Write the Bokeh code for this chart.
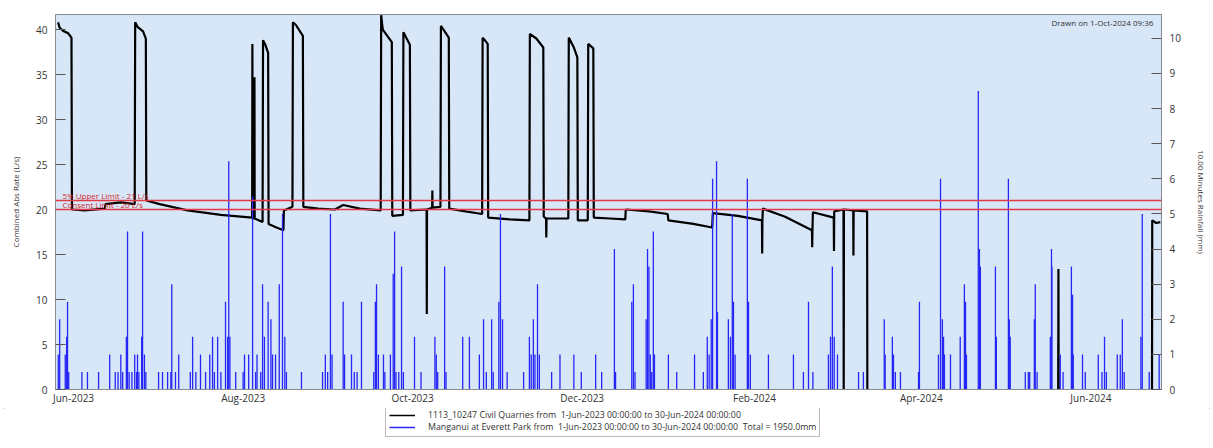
import numpy as np
import pandas as pd
from bokeh.plotting import figure
from bokeh.layouts import column
from bokeh.models import (Range1d, LinearAxis, FixedTicker, SingleIntervalTicker,
                          DatetimeTickFormatter, Span, Label, Legend, LegendItem,
                          ColumnDataSource)
from bokeh.embed import file_html
from bokeh.resources import INLINE

nan = float("nan")

# ---------------- data ----------------
x_tick_dates = ["2023-06-01", "2023-08-01", "2023-10-01", "2023-12-01",
                "2024-02-01", "2024-04-01", "2024-06-01"]

flow_series_name = "1113_10247 Civil Quarries from  1-Jun-2023 00:00:00 to 30-Jun-2024 00:00:00"
rain_series_name = "Manganui at Everett Park from  1-Jun-2023 00:00:00 to 30-Jun-2024 00:00:00  Total = 1950.0mm"

upper_limit = 21.0
consent_limit = 20.0

# combined abstraction rate (L/s)
flow = [
    ("2023-05-26 10:00", 40.8), ("2023-05-27 00:00", 40.2), ("2023-05-28 12:00", 39.8),
    ("2023-05-30 00:00", 39.6), ("2023-05-31 06:00", 39.1), ("2023-05-31 10:00", 20.0),
    ("2023-06-05 00:00", 19.9), ("2023-06-12 06:00", 20.1), ("2023-06-12 12:00", 20.6),
    ("2023-06-18 00:00", 20.8), ("2023-06-23 00:00", 20.6), ("2023-06-23 04:00", 40.8),
    ("2023-06-24 00:00", 40.3), ("2023-06-26 00:00", 39.8), ("2023-06-27 00:00", 39.0),
    ("2023-06-27 04:00", 21.0), ("2023-07-02 00:00", 20.6), ("2023-07-12 00:00", 19.9),
    ("2023-07-24 00:00", 19.4), ("2023-08-04 06:00", 19.1), ("2023-08-04 08:00", 38.4),
    ("2023-08-04 10:00", 19.1), ("2023-08-05 00:00", 19.0), ("2023-08-05 02:00", 34.7),
    ("2023-08-05 04:00", 19.0), ("2023-08-08 00:00", 18.6), ("2023-08-08 04:00", 38.8),
    ("2023-08-09 00:00", 38.3), ("2023-08-10 00:00", 37.4), ("2023-08-10 04:00", 18.4),
    ("2023-08-13 00:00", 18.0), ("2023-08-15 12:00", 17.7), ("2023-08-15 16:00", 19.9),
    ("2023-08-18 18:00", 20.3), ("2023-08-18 22:00", 40.8), ("2023-08-20 00:00", 40.5),
    ("2023-08-22 12:00", 39.3), ("2023-08-22 16:00", 20.3), ("2023-08-28 00:00", 20.1),
    ("2023-09-03 00:00", 20.0), ("2023-09-06 00:00", 20.5), ("2023-09-12 00:00", 20.1),
    ("2023-09-19 12:00", 19.9), ("2023-09-19 16:00", 41.6), ("2023-09-20 06:00", 40.0),
    ("2023-09-23 12:00", 38.6), ("2023-09-23 16:00", 19.3), ("2023-09-27 12:00", 19.4),
    ("2023-09-27 16:00", 39.7), ("2023-09-30 00:00", 38.3), ("2023-09-30 04:00", 19.9),
    ("2023-10-06 00:00", 20.0), ("2023-10-06 02:00", 8.4), ("2023-10-06 04:00", 20.0),
    ("2023-10-08 00:00", 20.2), ("2023-10-08 02:00", 22.1), ("2023-10-08 04:00", 20.2),
    ("2023-10-11 00:00", 20.3), ("2023-10-11 04:00", 40.4), ("2023-10-12 12:00", 39.8),
    ("2023-10-14 00:00", 39.1), ("2023-10-14 04:00", 20.1), ("2023-10-20 00:00", 19.8),
    ("2023-10-26 00:00", 19.5), ("2023-10-26 04:00", 39.1), ("2023-10-27 00:00", 38.8),
    ("2023-10-28 00:00", 38.4), ("2023-10-28 04:00", 19.1), ("2023-11-05 00:00", 18.9),
    ("2023-11-12 00:00", 18.8), ("2023-11-12 04:00", 39.5), ("2023-11-14 12:00", 39.0),
    ("2023-11-17 00:00", 38.0), ("2023-11-17 04:00", 19.2), ("2023-11-18 00:00", 19.0),
    ("2023-11-18 02:00", 16.9), ("2023-11-18 04:00", 19.0), ("2023-11-26 00:00", 19.0),
    ("2023-11-26 04:00", 39.1), ("2023-11-28 00:00", 38.0), ("2023-11-29 06:00", 36.9),
    ("2023-11-29 10:00", 18.8), ("2023-12-03 00:00", 18.8), ("2023-12-03 04:00", 38.4),
    ("2023-12-05 00:00", 37.9), ("2023-12-05 04:00", 19.1), ("2023-12-11 00:00", 19.0),
    ("2023-12-16 12:00", 18.9), ("2023-12-16 16:00", 20.0), ("2023-12-25 00:00", 19.8),
    ("2023-12-31 18:00", 19.5), ("2024-01-01 00:00", 18.8), ("2024-01-10 00:00", 18.4),
    ("2024-01-16 18:00", 18.0), ("2024-01-17 00:00", 19.6), ("2024-01-26 00:00", 19.3),
    ("2024-02-03 16:00", 18.8), ("2024-02-03 18:00", 15.1), ("2024-02-03 20:00", 18.8),
    ("2024-02-04 00:00", 20.1), ("2024-02-12 00:00", 19.2), ("2024-02-21 16:00", 17.7),
    ("2024-02-21 18:00", 15.8), ("2024-02-21 20:00", 17.7), ("2024-02-22 00:00", 19.7),
    ("2024-02-29 12:00", 19.1), ("2024-02-29 14:00", 15.4), ("2024-02-29 16:00", 19.8),
    ("2024-03-04 00:00", 20.0), ("2024-03-04 02:00", 0.0), ("2024-03-04 04:00", 20.0),
    ("2024-03-07 12:00", 19.9), ("2024-03-07 14:00", 14.9), ("2024-03-07 16:00", 19.9),
    ("2024-03-12 12:00", 19.8), ("2024-03-12 14:00", 0.0), ("2024-03-12 16:00", nan),
    ("2024-05-20 06:00", 0.0), ("2024-05-20 08:00", 13.4), ("2024-05-20 10:00", 0.0),
    ("2024-05-20 12:00", nan), ("2024-06-23 00:00", 0.0), ("2024-06-23 02:00", 18.8),
    ("2024-06-24 12:00", 18.5), ("2024-06-26 00:00", 18.6),
]

# 10-minute rainfall (mm)
rain = [
    ("2023-05-26 12:00", 1.0), ("2023-05-27 00:00", 2.0), ("2023-05-29 00:00", 1.0),
    ("2023-05-29 12:00", 1.5), ("2023-05-29 20:00", 2.5), ("2023-05-30 06:00", 0.5),
    ("2023-06-04 00:00", 0.5), ("2023-06-06 00:00", 0.5), ("2023-06-10 00:00", 0.5),
    ("2023-06-14 00:00", 1.0), ("2023-06-16 00:00", 0.5), ("2023-06-17 00:00", 0.5),
    ("2023-06-18 00:00", 1.0), ("2023-06-18 16:00", 0.5), ("2023-06-20 00:00", 1.5),
    ("2023-06-20 10:00", 4.5), ("2023-06-21 00:00", 0.5), ("2023-06-22 00:00", 0.5),
    ("2023-06-23 00:00", 1.0), ("2023-06-23 16:00", 0.5), ("2023-06-24 00:00", 1.0),
    ("2023-06-24 12:00", 0.5), ("2023-06-25 12:00", 1.5), ("2023-06-25 20:00", 4.5),
    ("2023-06-26 12:00", 1.0), ("2023-06-27 00:00", 0.5), ("2023-07-01 14:00", 0.5),
    ("2023-07-03 00:00", 0.5), ("2023-07-04 20:00", 0.5), ("2023-07-06 00:00", 0.5),
    ("2023-07-06 08:00", 3.0), ("2023-07-07 16:00", 0.5), ("2023-07-08 20:00", 1.0),
    ("2023-07-13 00:00", 0.5), ("2023-07-13 20:00", 1.5), ("2023-07-15 00:00", 0.5),
    ("2023-07-16 16:00", 1.0), ("2023-07-18 12:00", 0.5), ("2023-07-20 00:00", 1.0),
    ("2023-07-21 00:00", 1.5), ("2023-07-21 16:00", 0.5), ("2023-07-22 20:00", 1.5),
    ("2023-07-24 00:00", 0.5), ("2023-07-25 16:00", 2.5), ("2023-07-26 10:00", 1.5),
    ("2023-07-26 20:00", 6.5), ("2023-07-27 06:00", 1.5), ("2023-07-29 08:00", 0.5),
    ("2023-08-01 00:00", 0.5), ("2023-08-01 12:00", 1.0), ("2023-08-03 00:00", 1.0),
    ("2023-08-04 10:00", 5.5), ("2023-08-05 12:00", 0.5), ("2023-08-06 00:00", 1.0),
    ("2023-08-07 08:00", 0.5), ("2023-08-08 00:00", 3.0), ("2023-08-08 16:00", 1.5),
    ("2023-08-10 00:00", 2.5), ("2023-08-11 00:00", 2.0), ("2023-08-11 14:00", 1.0),
    ("2023-08-12 16:00", 1.0), ("2023-08-14 00:00", 3.0), ("2023-08-15 04:00", 5.0),
    ("2023-08-16 00:00", 1.5), ("2023-08-16 14:00", 0.5), ("2023-08-22 00:00", 0.5),
    ("2023-08-29 14:00", 0.5), ("2023-08-30 14:00", 1.0), ("2023-08-31 10:00", 0.5),
    ("2023-09-01 10:00", 5.0), ("2023-09-02 00:00", 1.0), ("2023-09-06 00:00", 2.5),
    ("2023-09-06 12:00", 1.0), ("2023-09-09 00:00", 1.0), ("2023-09-10 00:00", 0.5),
    ("2023-09-11 00:00", 0.5), ("2023-09-12 14:00", 2.5), ("2023-09-17 00:00", 0.5),
    ("2023-09-17 14:00", 2.5), ("2023-09-18 00:00", 3.0), ("2023-09-18 16:00", 1.0),
    ("2023-09-20 12:00", 1.0), ("2023-09-21 00:00", 0.5), ("2023-09-23 00:00", 1.0),
    ("2023-09-24 00:00", 3.3), ("2023-09-24 12:00", 4.5), ("2023-09-25 00:00", 0.5),
    ("2023-09-26 00:00", 0.5), ("2023-09-27 00:00", 3.5), ("2023-09-27 16:00", 0.5),
    ("2023-10-01 16:00", 1.5), ("2023-10-04 00:00", 0.5), ("2023-10-09 00:00", 1.5),
    ("2023-10-09 12:00", 1.0), ("2023-10-10 00:00", 0.5), ("2023-10-12 12:00", 3.5),
    ("2023-10-13 00:00", 0.5), ("2023-10-19 00:00", 1.5), ("2023-10-21 10:00", 1.5),
    ("2023-10-25 00:00", 1.0), ("2023-10-26 12:00", 2.0), ("2023-10-27 12:00", 0.5),
    ("2023-10-29 10:00", 2.0), ("2023-10-30 00:00", 0.5), ("2023-11-01 00:00", 2.5),
    ("2023-11-01 14:00", 5.0), ("2023-11-02 08:00", 2.0), ("2023-11-04 00:00", 0.5),
    ("2023-11-09 22:00", 0.5), ("2023-11-12 00:00", 1.5), ("2023-11-12 16:00", 1.0),
    ("2023-11-13 10:00", 2.0), ("2023-11-14 00:00", 1.0), ("2023-11-14 22:00", 3.0),
    ("2023-11-15 14:00", 1.0), ("2023-11-20 00:00", 0.5), ("2023-11-23 00:00", 1.0),
    ("2023-11-28 00:00", 1.0), ("2023-11-30 16:00", 0.5), ("2023-12-05 20:00", 1.0),
    ("2023-12-08 00:00", 0.5), ("2023-12-12 14:00", 4.0), ("2023-12-13 00:00", 0.5),
    ("2023-12-18 20:00", 2.5), ("2023-12-19 10:00", 3.0), ("2023-12-20 00:00", 0.5),
    ("2023-12-24 00:00", 2.0), ("2023-12-24 12:00", 4.0), ("2023-12-25 00:00", 3.5),
    ("2023-12-25 12:00", 1.0), ("2023-12-26 00:00", 0.5), ("2023-12-26 14:00", 4.5),
    ("2023-12-27 00:00", 1.0), ("2024-01-01 00:00", 1.0), ("2024-01-04 00:00", 0.5),
    ("2024-01-10 10:00", 1.0), ("2024-01-13 14:00", 0.5), ("2024-01-15 00:00", 1.5),
    ("2024-01-15 16:00", 1.0), ("2024-01-16 10:00", 2.0), ("2024-01-16 22:00", 6.0),
    ("2024-01-18 08:00", 6.5), ("2024-01-18 16:00", 2.2), ("2024-01-22 14:00", 2.0),
    ("2024-01-23 08:00", 1.5), ("2024-01-24 00:00", 5.0), ("2024-01-24 10:00", 2.5),
    ("2024-01-25 00:00", 1.0), ("2024-01-29 10:00", 6.0), ("2024-01-29 20:00", 2.5),
    ("2024-01-30 12:00", 1.0), ("2024-02-06 00:00", 1.0), ("2024-02-15 00:00", 1.0),
    ("2024-02-18 14:00", 0.5), ("2024-02-20 10:00", 2.5), ("2024-02-22 00:00", 0.5),
    ("2024-02-27 14:00", 1.0), ("2024-02-28 08:00", 1.5), ("2024-02-29 00:00", 3.5),
    ("2024-02-29 16:00", 1.5), ("2024-03-01 20:00", 1.0), ("2024-03-09 10:00", 0.5),
    ("2024-03-11 04:00", 0.5), ("2024-03-18 16:00", 2.0), ("2024-03-19 00:00", 1.0),
    ("2024-03-21 14:00", 1.5), ("2024-03-22 00:00", 1.0), ("2024-03-22 16:00", 0.5),
    ("2024-03-24 12:00", 0.5), ("2024-03-31 00:00", 0.5), ("2024-03-31 08:00", 2.5),
    ("2024-04-07 04:00", 1.0), ("2024-04-07 22:00", 6.0), ("2024-04-08 14:00", 2.0),
    ("2024-04-09 00:00", 1.5), ("2024-04-09 08:00", 1.0), ("2024-04-11 12:00", 1.0),
    ("2024-04-15 00:00", 1.5), ("2024-04-16 12:00", 3.0), ("2024-04-16 22:00", 2.5),
    ("2024-04-17 06:00", 1.0), ("2024-04-21 12:00", 8.5), ("2024-04-21 22:00", 4.0),
    ("2024-04-22 06:00", 3.5), ("2024-04-27 16:00", 3.5), ("2024-04-28 00:00", 1.5),
    ("2024-05-02 08:00", 6.0), ("2024-05-02 16:00", 2.0), ("2024-05-03 00:00", 1.5),
    ("2024-05-08 10:00", 0.5), ("2024-05-09 12:00", 0.5), ("2024-05-10 00:00", 0.5),
    ("2024-05-11 16:00", 2.0), ("2024-05-12 00:00", 3.0), ("2024-05-12 16:00", 0.5),
    ("2024-05-17 10:00", 1.5), ("2024-05-17 20:00", 4.0), ("2024-05-18 00:00", 3.5),
    ("2024-05-21 00:00", 1.0), ("2024-05-22 00:00", 0.5), ("2024-05-25 00:00", 3.5),
    ("2024-05-25 10:00", 2.7), ("2024-05-25 16:00", 1.0), ("2024-05-29 00:00", 1.0),
    ("2024-05-30 00:00", 0.5), ("2024-06-03 16:00", 1.0), ("2024-06-05 00:00", 0.5),
    ("2024-06-05 22:00", 1.5), ("2024-06-06 14:00", 0.5), ("2024-06-10 12:00", 1.0),
    ("2024-06-11 14:00", 1.0), ("2024-06-12 08:00", 2.0), ("2024-06-13 00:00", 0.5),
    ("2024-06-19 00:00", 1.5), ("2024-06-19 12:00", 5.0), ("2024-06-22 00:00", 0.5),
    ("2024-06-25 14:00", 1.0),
]

# ---------------- figure ----------------
def ms(s):
    return pd.Timestamp(s).value // 10**6

flow_src = ColumnDataSource(dict(t=pd.to_datetime([d for d, _ in flow]),
                                 v=[v for _, v in flow]))
rain_src = ColumnDataSource(dict(t=pd.to_datetime([d for d, _ in rain]),
                                 mm=[v for _, v in rain]))

FONT = "Open Sans"
TXT = "#333333"
FLOW_COLOR = "black"
RAIN_COLOR = "#2626f5"

p = figure(width=1213, height=408, x_axis_type="datetime",
           x_range=Range1d(ms("2023-05-25 12:00"), ms("2024-06-26 10:00")),
           y_range=Range1d(0, 41.67),
           output_backend="svg", toolbar_location=None,
           min_border_left=55, min_border_right=52, min_border_top=14,
           min_border_bottom=19)
p.extra_y_ranges = {"rain": Range1d(0, 10.68)}
p.background_fill_color = "#d8e7f8"
p.border_fill_color = "white"
p.outline_line_color = "#8a8a8a"
p.grid.visible = False

# x axis
xa = p.xaxis[0]
xa.ticker = FixedTicker(ticks=[ms(d) for d in x_tick_dates])
xa.formatter = DatetimeTickFormatter(years="%b-%Y", months="%b-%Y", days="%b-%Y",
                                     hours="%b-%Y", minutes="%b-%Y")
xa.major_tick_in = 0
xa.major_tick_out = 0
xa.minor_tick_line_color = None
xa.axis_line_color = "#8a8a8a"
xa.major_label_standoff = 1

# left axis
ya = p.yaxis[0]
ya.ticker = SingleIntervalTicker(interval=5)
ya.axis_label = "Combined Abs Rate (L/s)"

# right axis
ra = LinearAxis(y_range_name="rain", axis_label="10.00 Minutes Rainfall (mm)",
                ticker=SingleIntervalTicker(interval=1))
p.add_layout(ra, "right")

for ax in (ya, ra):
    ax.major_tick_in = 10
    ax.major_tick_out = 0
    ax.minor_tick_line_color = None
    ax.major_tick_line_color = "#555555"
    ax.axis_line_color = "#8a8a8a"
    ax.major_label_standoff = 4
    ax.axis_label_standoff = 12
    ax.axis_label_text_font_size = "8px"
    ax.axis_label_text_font_style = "normal"
    ax.axis_label_text_color = TXT
    ax.axis_label_text_font = FONT

for ax in (xa, ya, ra):
    ax.major_label_text_font = FONT
    ax.major_label_text_font_size = "10px"
    ax.major_label_text_color = TXT

# series
p.line("t", "v", source=flow_src, line_color=FLOW_COLOR, line_width=2.2)
p.segment(x0="t", y0=0, x1="t", y1="mm", source=rain_src,
          y_range_name="rain", line_color=RAIN_COLOR, line_width=1.3)

# limit lines
for lvl in (upper_limit, consent_limit):
    p.add_layout(Span(location=lvl, dimension="width", line_color="#e23a45",
                      line_width=1.4))

p.add_layout(Label(x=ms("2023-05-28 00:00"), y=upper_limit, text="5% Upper Limit - 21 L/s",
                   text_font=FONT, text_font_size="8px", text_color="#d42a2a",
                   text_baseline="bottom"))
p.add_layout(Label(x=ms("2023-05-28 00:00"), y=consent_limit, text="Consent Limit - 20 L/s",
                   text_font=FONT, text_font_size="8px", text_color="#d42a2a",
                   text_baseline="bottom"))
p.add_layout(Label(x=ms("2024-06-24 06:00"), y=41.35, text="Drawn on  1-Oct-2024 09:36",
                   text_font=FONT, text_font_size="8px", text_color=TXT,
                   text_align="right", text_baseline="top"))

# legend strip below the chart (its frame is aligned with the chart's frame)
lf = figure(width=1213, height=40, x_range=Range1d(0, 1), y_range=Range1d(0, 1),
            output_backend="svg", toolbar_location=None, min_border=0)
lf.axis.visible = False
lf.grid.visible = False
lf.outline_line_color = None
lf.background_fill_color = "white"
lg_flow = lf.line([nan], [nan], line_color=FLOW_COLOR, line_width=1.5)
lg_rain = lf.line([nan], [nan], line_color=RAIN_COLOR, line_width=1.5)
legend = Legend(items=[LegendItem(label=flow_series_name, renderers=[lg_flow]),
                       LegendItem(label=rain_series_name, renderers=[lg_rain])],
                location=(330, 11), orientation="vertical",
                label_text_font=FONT, label_text_font_size="8.8px",
                label_text_color=TXT, glyph_height=10, glyph_width=26,
                label_height=10, spacing=0, padding=3, margin=0,
                label_standoff=13, border_line_color="#777777")
lf.add_layout(legend, "center")

page = column(p, lf, spacing=0,
              styles={"outline": "1px solid #a8a8a8", "outline-offset": "-4px"})

open("out.html", "w").write(file_html(page, INLINE))
